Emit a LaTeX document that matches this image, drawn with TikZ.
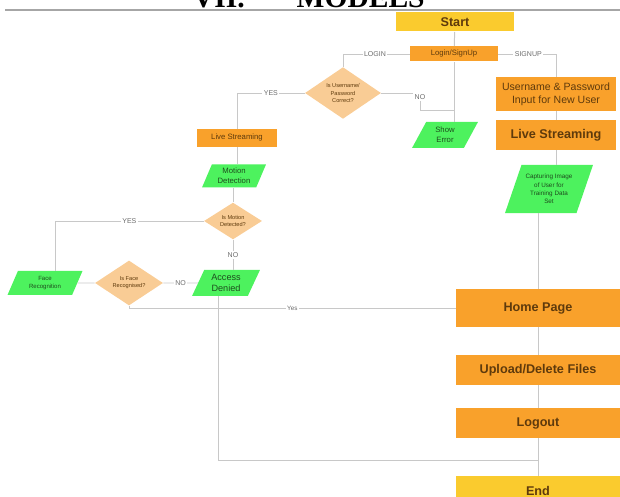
\documentclass[tikz,border=0pt]{standalone}
\usepackage{fontspec}
\setmainfont{Liberation Sans}
\newfontfamily\headfont{Liberation Serif}
\usepackage{xcolor}
\usetikzlibrary{shapes.geometric, positioning}

\definecolor{boxorange}{HTML}{F9A12B}
\definecolor{boxyellow}{HTML}{FACB2E}
\definecolor{boxgreen}{HTML}{4DF25E}
\definecolor{diampeach}{HTML}{F9CC95}
\definecolor{linegray}{HTML}{C8C8C8}
\definecolor{txtbrown}{HTML}{5E3A0C}
\definecolor{txtgreen}{HTML}{1E4D1E}

\newcommand{\flowfs}[2]{\fontsize{#1}{#2}\selectfont}

\begin{document}
\begin{tikzpicture}[x=0.025cm, y=-0.025cm,
    conn/.style={draw=linegray, line width=0.7pt},
    procbox/.style={rectangle, fill=boxorange, inner sep=0pt, text=txtbrown, align=center},
    termbox/.style={rectangle, fill=boxyellow, inner sep=0pt, text=txtbrown, align=center},
    iobox/.style={trapezium, trapezium left angle=65, trapezium right angle=115,
        trapezium stretches=true, fill=boxgreen, inner sep=0pt, text=txtgreen, align=center},
    decision/.style={diamond, fill=diampeach, inner sep=0pt, text=txtbrown, align=center},
    edgelabel/.style={fill=white, inner sep=1pt, text=gray!85!black, font=\flowfs{5}{6}}]
    \useasboundingbox (0,0) rectangle (620,497);

    % Section heading (cut off at the top)
    \node[font=\headfont\flowfs{21}{21}\bfseries, anchor=base west] (heading) at (188,8) {VII.\hspace{37pt}MODELS};
    \draw[gray!70, line width=0.8pt] (5,10) -- (620,10);

    % Start and login
    \node[termbox, minimum width=2.95cm, minimum height=0.475cm, font=\flowfs{9}{10}\bfseries] (start) at (455,22) {Start};
    \node[procbox, minimum width=2.2cm, minimum height=0.375cm, font=\flowfs{5.5}{6.5}] (login) at (454,54) {Login/SignUp};
    \node[decision, minimum width=1.9cm, minimum height=1.05cm, font=\flowfs{4}{5}] (pwdok) at (343,93) {Is Username/\\Password\\Correct?};
    \node[iobox, minimum width=1.65cm, minimum height=0.65cm, font=\flowfs{5.5}{7}] (showerr) at (445,135) {Show\\Error};

    % Signup branch
    \node[procbox, minimum width=3cm, minimum height=0.85cm, font=\flowfs{7.5}{9.5}] (newuser) at (556,94) {Username \& Password\\Input for New User};
    \node[procbox, minimum width=3cm, minimum height=0.75cm, font=\flowfs{9}{10}\bfseries] (livesign) at (556,135) {Live Streaming};
    \node[iobox, minimum width=2.2cm, minimum height=1.2cm, font=\flowfs{4.5}{6}] (capture) at (549,189) {Capturing Image\\of User for\\Training Data\\Set};

    % Main column
    \node[procbox, minimum width=4.1cm, minimum height=0.925cm, font=\flowfs{9}{10}\bfseries] (home) at (538,308) {Home Page};
    \node[procbox, minimum width=4.1cm, minimum height=0.75cm, font=\flowfs{9}{10}\bfseries] (files) at (538,370) {Upload/Delete Files};
    \node[procbox, minimum width=4.1cm, minimum height=0.75cm, font=\flowfs{9}{10}\bfseries] (logout) at (538,423) {Logout};
    \node[termbox, minimum width=4.1cm, minimum height=0.75cm, font=\flowfs{9}{10}\bfseries] (end) at (538,491) {End};

    % Login branch
    \node[procbox, minimum width=2cm, minimum height=0.45cm, font=\flowfs{5.5}{6.5}] (livelogin) at (237,138) {Live Streaming};
    \node[iobox, minimum width=1.6cm, minimum height=0.575cm, font=\flowfs{5.5}{7}] (motion) at (234,176) {Motion\\Detection};
    \node[decision, minimum width=1.45cm, minimum height=0.825cm, font=\flowfs{4}{5}] (motionq) at (233,221) {Is Motion\\Detected?};
    \node[iobox, minimum width=1.7cm, minimum height=0.65cm, font=\flowfs{6.5}{8}] (denied) at (226,283) {Access\\Denied};
    \node[iobox, minimum width=1.875cm, minimum height=0.6cm, font=\flowfs{4.3}{5.5}] (facerec) at (45,283) {Face\\Recognition};
    \node[decision, minimum width=1.7cm, minimum height=0.775cm, font=\flowfs{4}{5}] (faceq) at (129,283) {Is Face\\Recognised?};

    % Turning points
    \coordinate (noturn) at (420,110);
    \coordinate (yesturn) at (55,221);
    \coordinate (denieddrop) at (218,460);

    % Connectors, top part
    \draw[conn] (start) -- (login);
    \draw[conn] (login.south) -- (login.south |- showerr.north);
    \draw[conn] (login.west) -| (pwdok.north) node[edgelabel, pos=0.26] {LOGIN};
    \draw[conn] (login.east) -| (newuser.north) node[edgelabel, pos=0.26] {SIGNUP};
    \draw[conn] (pwdok.west) -| (livelogin.north) node[edgelabel, pos=0.25] {YES};
    \draw[conn] (pwdok.east) -| (noturn) node[edgelabel, pos=0.62] {NO} -- (noturn -| login.south);
    \draw[conn] (newuser) -- (livesign);
    \draw[conn] (livesign.south) -- (livesign.south |- capture.north);
    \draw[conn] (home.north |- capture.south) -- (home.north);

    % Connectors, main column
    \draw[conn] (home) -- (files);
    \draw[conn] (files) -- (logout);
    \draw[conn] (logout) -- (end);

    % Connectors, face check
    \draw[conn] (livelogin.south) -- (livelogin.south |- motion.north);
    \draw[conn] (motion.south -| motionq.north) -- (motionq.north);
    \draw[conn] (motionq.west) -- (yesturn) node[edgelabel, midway] {YES} -- (yesturn |- facerec.north);
    \draw[conn] (motionq.south) -- (motionq.south |- denied.north) node[edgelabel, midway] {NO};
    \draw[conn] (faceq.west) -- (facerec.east);
    \draw[conn] (faceq.east) -- (denied.west) node[edgelabel, midway] {NO};
    \draw[conn] (faceq.south) |- (home.west) node[edgelabel, pos=0.75, font=\flowfs{4.5}{5}] {Yes};
    \draw[conn] (denied.south -| denieddrop) -- (denieddrop) -- (denieddrop -| end.north);
\end{tikzpicture}
\end{document}
